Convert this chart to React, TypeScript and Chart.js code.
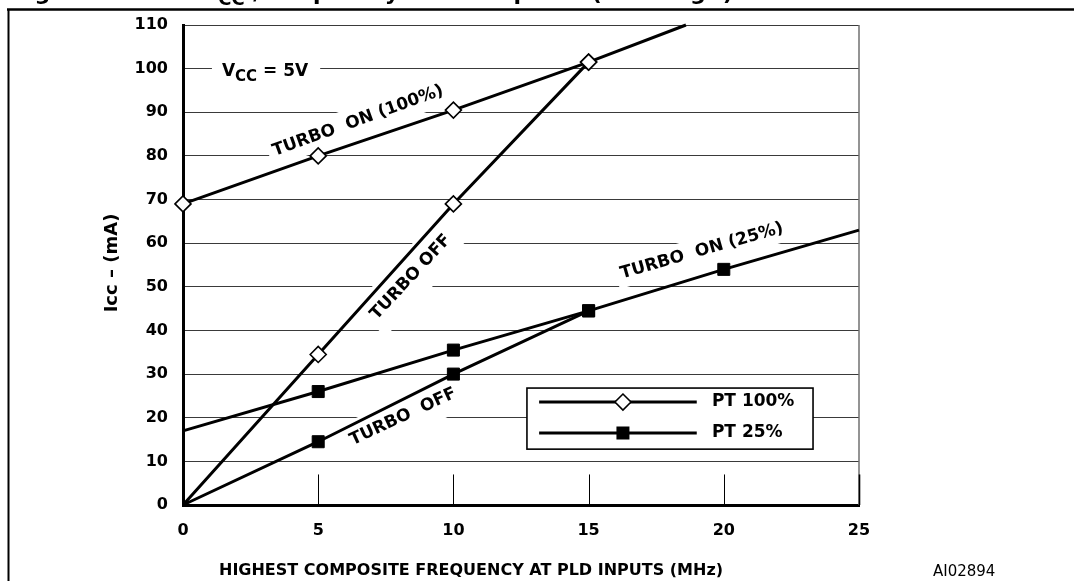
import React, { useEffect, useRef } from 'react';
import { Chart, registerables } from 'chart.js';

Chart.register(...registerables);

const FAMILY = '"DejaVu Sans", "Liberation Sans", Arial, sans-serif';

// ---------- data ----------
const xTickValues = [0, 5, 10, 15, 20, 25];
const yTickValues = [0, 10, 20, 30, 40, 50, 60, 70, 80, 90, 100, 110];

const seriesLabels = ['PT 100%', 'PT 25%'];

const turboOn100X = [0, 5, 10, 15, 18.6];
const turboOn100Y = [69, 80, 90.5, 101.5, 110];
const turboOn100Marked = [true, true, true, true, false];

const turboOff100X = [0, 5, 10, 15];
const turboOff100Y = [0, 34.5, 69, 101.5];
const turboOff100Marked = [false, true, true, true];

const turboOn25X = [0, 5, 10, 15, 20, 25];
const turboOn25Y = [17, 26, 35.5, 44.5, 54, 63];
const turboOn25Marked = [false, true, true, true, true, false];

const turboOff25X = [0, 5, 10, 15];
const turboOff25Y = [0, 14.5, 30, 44.5];
const turboOff25Marked = [false, true, true, true];

const curveLabelTexts = ['TURBO  ON (100%)', 'TURBO OFF', 'TURBO  ON (25%)', 'TURBO  OFF'];
const supplyLabel = ['V', 'CC', ' = 5V'];
const xAxisTitle = 'HIGHEST COMPOSITE FREQUENCY AT PLD INPUTS (MHz)';
const yAxisTitle = 'Icc – (mA)';
const figureCode = 'AI02894';
const figureTitle = ['Figure 39. PLD I', 'CC', ' /Frequency Consumption (5V range)'];

// ---------- helpers ----------
const toPoints = (xs: number[], ys: number[]) => xs.map((x, i) => ({ x, y: ys[i] }));

const diamondStyle = {
  pointStyle: 'rectRot',
  pointBackgroundColor: '#fff',
  pointBorderColor: '#000',
  pointBorderWidth: 1.6,
};
const squareStyle = {
  pointStyle: 'rect',
  pointBackgroundColor: '#000',
  pointBorderColor: '#000',
  pointBorderWidth: 1,
};

function rotLabel(ctx: CanvasRenderingContext2D, text: string, cx: number, cy: number, deg: number, halfH: number, pad: number) {
  ctx.save();
  ctx.translate(cx, cy);
  ctx.rotate((deg * Math.PI) / 180);
  ctx.font = `bold 17px ${FAMILY}`;
  const w = ctx.measureText(text).width;
  ctx.fillStyle = '#fff';
  ctx.fillRect(-w / 2 - pad, -halfH, w + 2 * pad, 2 * halfH);
  ctx.fillStyle = '#000';
  ctx.textAlign = 'center';
  ctx.textBaseline = 'middle';
  ctx.fillText(text, 0, 0);
  ctx.restore();
}

const decorPlugin = {
  id: 'figureDecor',
  beforeDatasetsDraw(chart: any) {
    const { ctx, chartArea: a, scales } = chart;
    const sx = scales.x;
    const sy = scales.y;
    ctx.save();
    // right frame of plot area
    ctx.strokeStyle = '#707070';
    ctx.lineWidth = 1.5;
    ctx.beginPath();
    ctx.moveTo(a.right, a.top);
    ctx.lineTo(a.right, a.bottom);
    ctx.stroke();
    // short vertical ticks at bottom
    ctx.strokeStyle = '#000';
    for (const v of xTickValues) {
      if (v === 0) continue;
      ctx.lineWidth = v === 25 ? 1.6 : 1;
      const xp = Math.round(sx.getPixelForValue(v)) + 0.5;
      ctx.beginPath();
      ctx.moveTo(xp, sy.getPixelForValue(0));
      ctx.lineTo(xp, sy.getPixelForValue(7));
      ctx.stroke();
    }

    // supply voltage label
    const vx = sx.getPixelForValue(1.44);
    const vy = sy.getPixelForValue(99.6);
    ctx.font = `bold 17px ${FAMILY}`;
    const wV = ctx.measureText(supplyLabel[0]).width;
    const wRest = ctx.measureText(supplyLabel[2]).width;
    ctx.font = `bold 15px ${FAMILY}`;
    const wCC = ctx.measureText(supplyLabel[1]).width;
    ctx.fillStyle = '#fff';
    ctx.fillRect(vx - 10, vy - 11, wV + wCC + wRest + 22, 24);
    ctx.fillStyle = '#000';
    ctx.textBaseline = 'alphabetic';
    ctx.textAlign = 'left';
    ctx.font = `bold 17px ${FAMILY}`;
    ctx.fillText(supplyLabel[0], vx, vy + 6);
    ctx.font = `bold 15px ${FAMILY}`;
    ctx.fillText(supplyLabel[1], vx + wV, vy + 11);
    ctx.font = `bold 17px ${FAMILY}`;
    ctx.fillText(supplyLabel[2], vx + wV + wCC, vy + 6);

    // curve labels
    rotLabel(ctx, curveLabelTexts[0], sx.getPixelForValue(6.47), sy.getPixelForValue(88.0), -20, 15, 5);
    rotLabel(ctx, curveLabelTexts[1], sx.getPixelForValue(8.43), sy.getPixelForValue(52.2), -47, 22, 6);
    rotLabel(ctx, curveLabelTexts[2], sx.getPixelForValue(19.19), sy.getPixelForValue(58.2), -16, 14, 5);
    rotLabel(ctx, curveLabelTexts[3], sx.getPixelForValue(8.14), sy.getPixelForValue(20.2), -25, 19, 5);
    ctx.restore();
  },
  afterDatasetsDraw(chart: any) {
    const { ctx, scales } = chart;
    const sx = scales.x;
    const sy = scales.y;
    ctx.save();
    // legend box
    const l = sx.getPixelForValue(12.72);
    const r = sx.getPixelForValue(23.3);
    const t = sy.getPixelForValue(26.8);
    const b = sy.getPixelForValue(12.8);
    ctx.fillStyle = '#fff';
    ctx.fillRect(l, t, r - l, b - t);
    ctx.strokeStyle = '#000';
    ctx.lineWidth = 1.6;
    ctx.strokeRect(l, t, r - l, b - t);
    const rows = [23.6, 16.5];
    const lx0 = sx.getPixelForValue(13.17);
    const lx1 = sx.getPixelForValue(19.0);
    const mx = sx.getPixelForValue(16.27);
    const tx = sx.getPixelForValue(19.56);
    rows.forEach((rv, i) => {
      const ry = sy.getPixelForValue(rv);
      ctx.strokeStyle = '#000';
      ctx.lineWidth = 2.8;
      ctx.beginPath();
      ctx.moveTo(lx0, ry);
      ctx.lineTo(lx1, ry);
      ctx.stroke();
      if (i === 0) {
        ctx.beginPath();
        ctx.moveTo(mx, ry - 8);
        ctx.lineTo(mx + 8, ry);
        ctx.lineTo(mx, ry + 8);
        ctx.lineTo(mx - 8, ry);
        ctx.closePath();
        ctx.fillStyle = '#fff';
        ctx.fill();
        ctx.lineWidth = 1.6;
        ctx.stroke();
      } else {
        ctx.fillStyle = '#000';
        ctx.fillRect(mx - 6.5, ry - 6.5, 13, 13);
      }
      ctx.fillStyle = '#000';
      ctx.font = `bold 17px ${FAMILY}`;
      ctx.textAlign = 'left';
      ctx.textBaseline = 'middle';
      ctx.fillText(seriesLabels[i], tx, ry);
    });
    ctx.restore();
  },
  afterDraw(chart: any) {
    const { ctx } = chart;
    ctx.save();
    ctx.fillStyle = '#000';
    // axis titles
    ctx.font = `bold 16px ${FAMILY}`;
    ctx.textAlign = 'center';
    ctx.textBaseline = 'middle';
    ctx.fillText(xAxisTitle, 471, 571);
    ctx.save();
    ctx.translate(112, 263);
    ctx.rotate(-Math.PI / 2);
    ctx.font = `bold 18px ${FAMILY}`;
    ctx.fillText(yAxisTitle, 0, 0);
    ctx.restore();
    // figure code
    ctx.font = `15px ${FAMILY}`;
    ctx.textAlign = 'left';
    ctx.fillText(figureCode, 933, 572);
    // figure title (cut off by the top edge)
    ctx.textBaseline = 'alphabetic';
    let x = 12;
    ctx.font = `bold 22px ${FAMILY}`;
    ctx.fillText(figureTitle[0], x, 0);
    x += ctx.measureText(figureTitle[0]).width + 8;
    ctx.font = `bold 18px ${FAMILY}`;
    ctx.fillText(figureTitle[1], x, 5);
    x += ctx.measureText(figureTitle[1]).width;
    ctx.font = `bold 22px ${FAMILY}`;
    (ctx as any).letterSpacing = '1px';
    ctx.fillText(figureTitle[2], x, 0);
    (ctx as any).letterSpacing = '0px';
    // outer frame
    ctx.strokeStyle = '#000';
    ctx.lineWidth = 2.5;
    ctx.beginPath();
    ctx.moveTo(7, 9.5);
    ctx.lineTo(1074, 9.5);
    ctx.stroke();
    ctx.lineWidth = 2;
    ctx.beginPath();
    ctx.moveTo(8.5, 9);
    ctx.lineTo(8.5, 581);
    ctx.stroke();
    ctx.restore();
  },
};

export default function App() {
  const canvasRef = useRef<HTMLCanvasElement | null>(null);

  useEffect(() => {
    if (!canvasRef.current) return;
    const tickFont = { family: FAMILY, size: 16, weight: 'bold' as const };
    const lineBase = {
      showLine: true,
      borderColor: '#000',
      borderWidth: 3,
      tension: 0,
      fill: false,
      clip: false,
    };
    const chart = new Chart(canvasRef.current, {
      type: 'scatter',
      data: {
        datasets: [
          {
            label: 'PT 100% turbo on',
            data: toPoints(turboOn100X, turboOn100Y),
            ...lineBase,
            ...diamondStyle,
            pointRadius: turboOn100Marked.map((m) => (m ? 8 : 0)),
          },
          {
            label: 'PT 100% turbo off',
            data: toPoints(turboOff100X, turboOff100Y),
            ...lineBase,
            ...diamondStyle,
            pointRadius: turboOff100Marked.map((m) => (m ? 8 : 0)),
          },
          {
            label: 'PT 25% turbo on',
            data: toPoints(turboOn25X, turboOn25Y),
            ...lineBase,
            ...squareStyle,
            pointRadius: turboOn25Marked.map((m) => (m ? 8.5 : 0)),
          },
          {
            label: 'PT 25% turbo off',
            data: toPoints(turboOff25X, turboOff25Y),
            ...lineBase,
            ...squareStyle,
            pointRadius: turboOff25Marked.map((m) => (m ? 8.5 : 0)),
          },
        ],
      } as any,
      options: {
        animation: false,
        responsive: true,
        maintainAspectRatio: false,
        events: [],
        layout: { padding: { top: 25, right: 215, bottom: 0, left: 0 } },
        plugins: { legend: { display: false }, tooltip: { enabled: false } },
        scales: {
          x: {
            type: 'linear',
            min: 0,
            max: 25,
            afterBuildTicks: (s: any) => {
              s.ticks = xTickValues.map((v) => ({ value: v }));
            },
            afterFit: (s: any) => {
              s.height = 76;
            },
            ticks: { font: tickFont, color: '#000', padding: 16, maxRotation: 0, autoSkip: false },
            grid: { drawOnChartArea: false, drawTicks: false },
            border: { display: true, color: '#000', width: 3 },
          },
          y: {
            type: 'linear',
            min: 0,
            max: 110,
            afterBuildTicks: (s: any) => {
              s.ticks = yTickValues.map((v) => ({ value: v }));
            },
            afterFit: (s: any) => {
              s.width = 183;
            },
            ticks: { font: tickFont, color: '#000', padding: 15, autoSkip: false },
            grid: { color: '#3a3a3a', lineWidth: 1, drawTicks: false },
            border: { display: true, color: '#000', width: 3 },
          },
        },
      } as any,
      plugins: [decorPlugin],
    });
    return () => chart.destroy();
  }, []);

  return (
    <div style={{ position: 'absolute', left: 0, top: 0, width: 1074, height: 581, background: '#fff' }}>
      <canvas ref={canvasRef} style={{ display: 'block' }} />
    </div>
  );
}
